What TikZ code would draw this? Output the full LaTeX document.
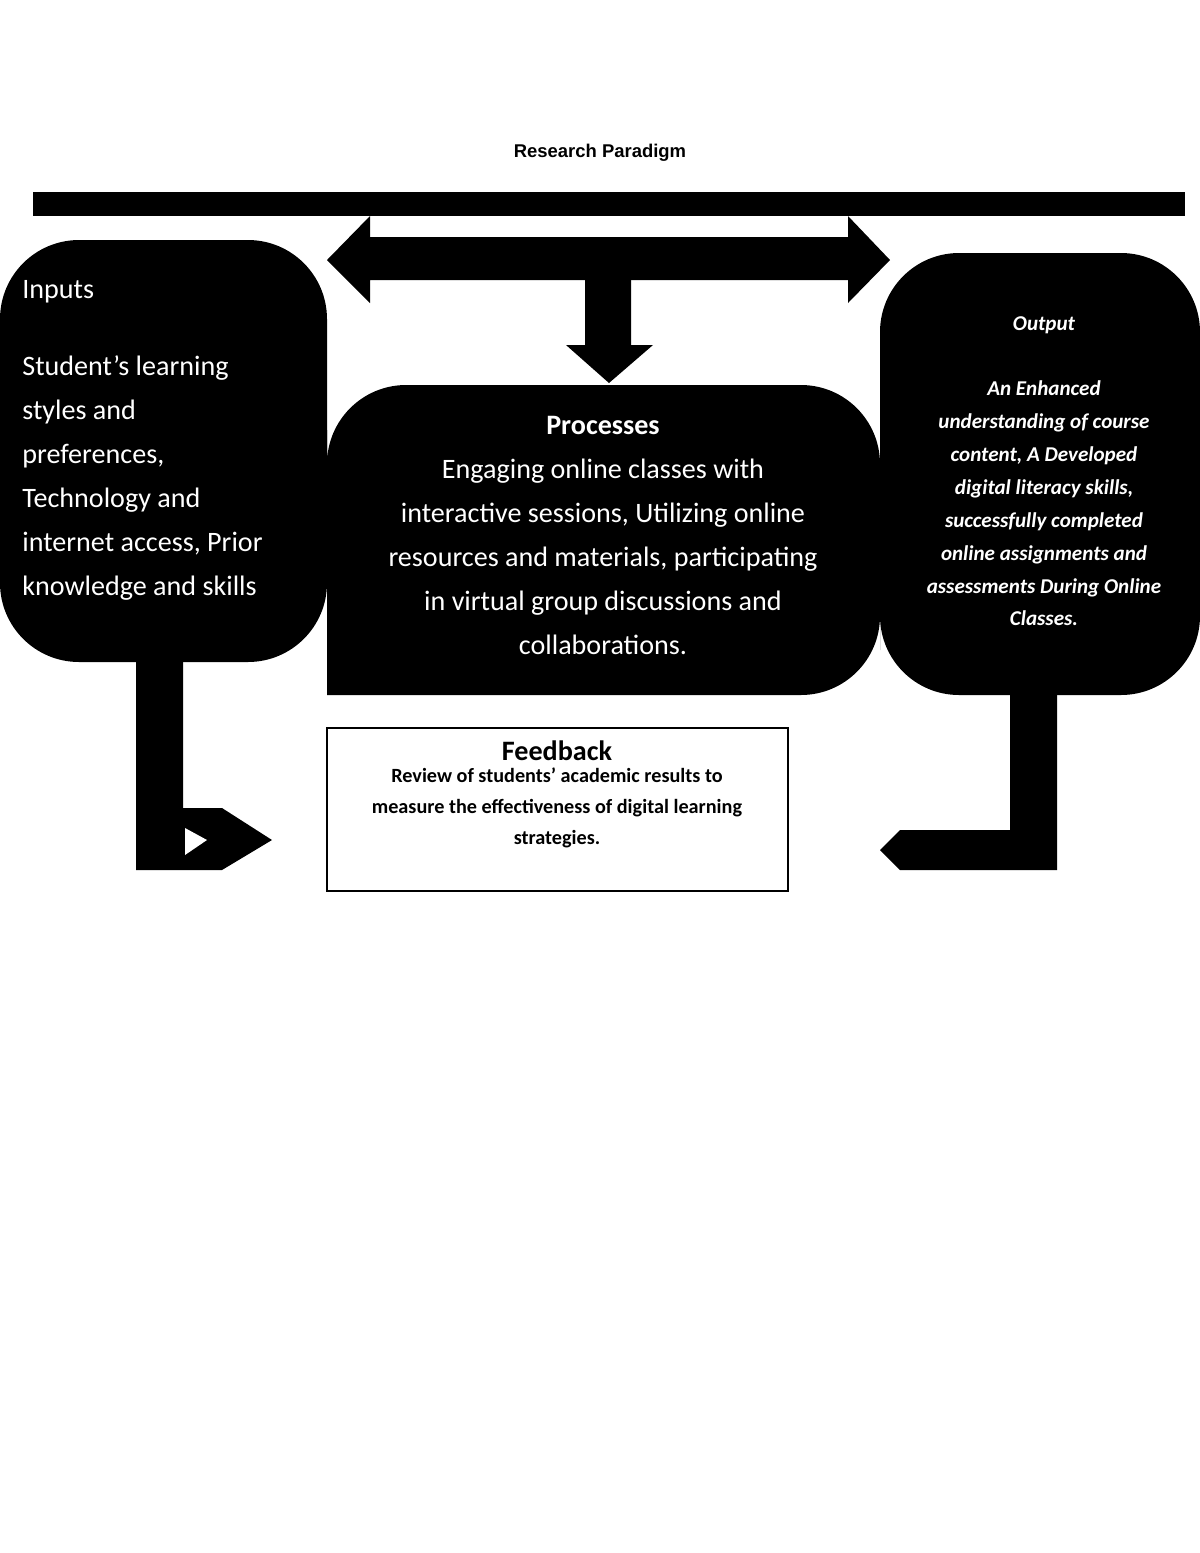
\documentclass[tikz,border=0pt]{standalone}
\usepackage{fontspec}
\setmainfont{Carlito}
\newfontfamily\arialfont{Liberation Sans}
\usetikzlibrary{positioning}

\begin{document}
\begin{tikzpicture}[x=0.02cm,y=-0.02cm]
                \useasboundingbox (0,0) rectangle (1200,1553);
                \tikzset{blk/.style={fill=black, draw=none},
                         boxtext/.style={text=white, font=\fontsize{16}{25}\selectfont, inner sep=0pt}}
                \node [font=\arialfont\bfseries\fontsize{10.5}{12}\selectfont] (title) at (600,153) {Research Paradigm};
%
                \fill [blk] (33,192) rectangle (1185,216);
                \fill [blk] (327,260) -- (370,216) -- (370,237) -- (848,237) -- (848,216) -- (890,260)
                    -- (848,303) -- (848,280) -- (370,280) -- (370,303) -- cycle;
                \fill [blk] (585,280) -- (631,280) -- (631,345) -- (653,345) -- (609,383) -- (566,345) -- (585,345) -- cycle;
%
                \fill [blk, rounded corners=45] (0,240) rectangle (327,662);
                \fill [blk] (327,695) -- (327,430) [rounded corners=45] -- (327,385) -- (880,385) [sharp corners] -- (880,650)
                    [rounded corners=45] -- (880,695) [sharp corners] -- cycle;
                \fill [blk, rounded corners=45] (880,253) rectangle (1200,695);
%
                \node [boxtext, anchor=north west, align=left] (inputs) at (22,280)
                    {Inputs\\[19pt]Student's learning\\styles and\\preferences,\\Technology and\\internet access, Prior\\knowledge and skills};
                \node [boxtext, anchor=north, align=center] (processes) at (603,416)
                    {\textbf{Processes}\\Engaging online classes with\\interactive sessions, Utilizing online\\resources and materials, participating\\in virtual group discussions and\\collaborations.};
                \node [boxtext, anchor=north, align=center, font=\bfseries\itshape\fontsize{12}{18.7}\selectfont] (output) at (1044,316)
                    {Output\\[18.7pt]An Enhanced\\understanding of course\\content, A Developed\\digital literacy skills,\\successfully completed\\online assignments and\\assessments During Online\\Classes.};
%
                \fill [blk] (136,662) -- (183,662) -- (183,808) -- (222,808) -- (272,840) -- (222,870) -- (136,870) -- cycle;
                \fill [white] (185,828) -- (207,840) -- (185,855) -- cycle;
                \fill [blk] (1010,695) -- (1057,695) -- (1057,870) -- (900,870) -- (880,850) -- (900,830) -- (1010,830) -- cycle;
%
                \draw [line width=0.6pt] (327,728) rectangle (788,891);
                \node [anchor=north, align=center, inner sep=0pt, font=\bfseries\fontsize{16}{20}\selectfont] (feedback) at (557,740) {Feedback};
                \node [below=4pt of feedback, align=center, inner sep=0pt, font=\bfseries\fontsize{11.5}{17.6}\selectfont] (review)
                    {Review of students' academic results to\\measure the effectiveness of digital learning\\strategies.};
            \end{tikzpicture}
\end{document}
